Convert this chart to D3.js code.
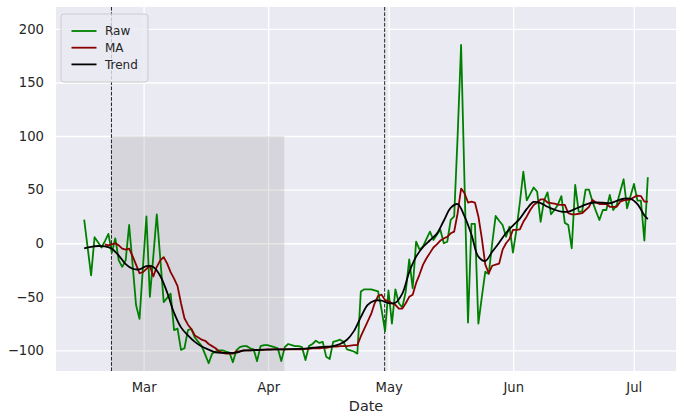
<!DOCTYPE html>
<meta charset="utf-8">
<style>
  body { margin: 0; background: #fff; }
  text { font-family: "DejaVu Sans", sans-serif; fill: #262626; }
  .grid line { stroke: #fff; stroke-width: 1.4; }
  .grid path { display: none; }
</style>
<script src="https://d3js.org/d3.v7.min.js"></script>
<div id="my_dataviz"></div>
<script>

// raw series, one value per sample (164 samples, evenly spaced from firstDate to lastDate)
var raw = [22, -4, -30, 5.6, 1, -4, 2, 8.7, -9, 4.6,
  -16, -22, -16, 17, -20, -57.6, -70.6, -22, 25, -50,
  -12, 27, -14, -55, -51, -47, -81, -79.6, -99.5, -98,
  -81, -80, -88, -92, -96, -104, -112, -103, -101, -100,
  -100, -101, -102, -111, -100, -97, -96, -96, -98, -99,
  -110, -96, -95, -95, -96, -97, -98, -110, -97, -94,
  -95, -96, -96, -97, -109, -96, -94, -91, -93, -92,
  -106, -108, -92, -91, -90, -92, -99, -100, -101, -103,
  -45, -43, -43, -43, -44, -45, -62, -82, -44, -75,
  -43, -56, -60, -45, -15, -42, 1.5, -6, -3, 4,
  10.8, 3, 8, 12.5, 0, 1.4, 21.7, 25, 100, 185,
  55, -74, 18, 18, -75, -50, -26.5, -28.6, 0, 25.5,
  21, 17, 6, 15.5, -8.7, 12.4, 38, 66.8, 40, 46,
  52, 48, 20, 40, 47.5, 27, 31, 36, 44, 19,
  17, -4.7, 54.4, 29.5, 29.5, 50, 50, 39, 30, 21.7,
  31, 31, 45, 31, 35.7, 48, 59.7, 32.6, 44, 55.3,
  39.7, 39.7, 2.4, 61.6];

// moving average, empty for the first six samples
var ma = [null, null, null, null, null, null, -1, -2, -1, 0,
  -2, -5, -6, -5, -12, -20, -28, -27, -24, -21,
  -31, -22, -16, -13, -19, -27, -33, -40, -56, -70,
  -76, -80, -86, -88, -90, -91, -94, -96, -98, -101,
  -102, -103, -103, -103, -101, -101, -100, -100, -100, -99.5,
  -99.5, -99.5, -99.4, -99, -99, -99, -99, -99, -99, -99,
  -99, -99, -99, -99, -98.5, -98.5, -98, -98, -98, -97.5,
  -97.5, -97, -96.5, -96.5, -96, -96, -96, -95.5, -95, -95,
  -87, -80, -73, -66, -56, -49, -48, -53, -54, -56,
  -57.5, -61, -61, -56, -50, -48, -37, -29, -20, -14,
  -9, -4, -1, 2.5, 4.5, 6, 9.3, 10.8, 28, 51,
  46.6, 38, 38.8, 38, 25, 4.6, -20, -28, -21, -20,
  -19, -6, 0, 4, 12.4, 12.5, 13, 20, 25, 31,
  35.7, 38, 41, 41, 38, 37.5, 37, 36, 35.7, 35.7,
  28, 27, 27, 27.5, 28, 31, 34, 40.4, 38, 36.6,
  36.6, 36.6, 34, 34, 34, 38.8, 40, 40.5, 41, 43,
  44.4, 44, 38.8, 38.8];

// smooth trend, read at every second sample
var trendIdx = [0, 2, 4, 6, 8, 10, 12, 14, 16, 18, 20, 22, 24, 26, 28, 30, 32, 34, 36, 38,
  40, 42, 44, 46, 48, 50, 52, 54, 56, 58, 60, 62, 64, 66, 68, 70, 72, 74, 76, 78,
  80, 82, 84, 86, 88, 90, 92, 94, 96, 98, 100, 102, 104, 106, 108, 110, 112, 114, 116, 118,
  120, 122, 124, 126, 128, 130, 132, 134, 136, 138, 140, 142, 144, 146, 148, 150, 152, 154, 156, 158,
  160, 162, 163];
var trend = [-4.7, -3.3, -2.6, -3, -5.2, -11.5, -19.5, -23.8, -24.3, -21.3, -22.2, -30.5, -46, -65, -78.5, -86, -92, -96.3, -99.3, -101.8,
  -102.3, -102.3, -102, -100.2, -100, -99.6, -99.3, -99.2, -99, -99, -98.8, -98.6, -98.4, -97.5, -97, -96.5, -95.9, -94, -90, -82,
  -69, -57.5, -53.5, -53.6, -55.8, -55.5, -47, -27, -12.5, -3.5, 2.8, 9, 21, 33, 36.5, 25, 8, -12.5, -16.5, -8,
  0.5, 9.5, 16.5, 23, 32, 38.5, 37.5, 34, 31.3, 29.5, 29.5, 32, 34.7, 37.2, 38, 37.8, 37.3, 39.5, 41.5, 41.5,
  36.5, 26, 22.4];

var firstDate = new Date(2020, 1, 15, 5),
    lastDate = new Date(2020, 6, 4, 12);
var markerDates = [new Date(2020, 1, 22), new Date(2020, 3, 30)];
var shadeDates = [new Date(2020, 1, 22), new Date(2020, 3, 5)];
var shadeTop = 100;
var yTicks = [-100, -50, 0, 50, 100, 150, 200];
var seriesNames = ["Raw", "MA", "Trend"];
var seriesColors = ["green", "darkred", "black"];

// dimensions
var W = 691, H = 414;
var margin = {top: 7, right: 15, bottom: 43, left: 56},
    width = W - margin.left - margin.right,
    height = H - margin.top - margin.bottom;

var svg = d3.select("#my_dataviz")
  .append("svg")
    .attr("width", W)
    .attr("height", H)
  .append("g")
    .attr("transform", "translate(" + margin.left + "," + margin.top + ")");

// sample dates
var step = (lastDate - firstDate) / (raw.length - 1);
var dates = raw.map(function(d, i) { return new Date(+firstDate + i * step); });

// scales (5% padding on x, like matplotlib)
var pad = (lastDate - firstDate) * 0.05;
var x = d3.scaleTime()
    .domain([new Date(+firstDate - pad), new Date(+lastDate + pad)])
    .range([0, width]);
var y = d3.scaleLinear()
    .domain([-119.2, 220.4])
    .range([height, 0]);

// background
svg.append("rect")
    .attr("width", width)
    .attr("height", height)
    .attr("fill", "#eaeaf2");

// grid
svg.append("g")
    .attr("class", "grid")
    .call(d3.axisLeft(y).tickValues(yTicks).tickSize(-width).tickFormat(""));
svg.append("g")
    .attr("class", "grid")
    .attr("transform", "translate(0," + height + ")")
    .call(d3.axisBottom(x).ticks(d3.timeMonth.every(1)).tickSize(-height).tickFormat(""));

// shaded period
svg.append("rect")
    .attr("x", x(shadeDates[0]))
    .attr("y", y(shadeTop))
    .attr("width", x(shadeDates[1]) - x(shadeDates[0]))
    .attr("height", height - y(shadeTop))
    .attr("fill", "#808080")
    .attr("fill-opacity", 0.2);

// dashed markers
svg.selectAll(".marker")
  .data(markerDates)
  .enter()
  .append("line")
    .attr("class", "marker")
    .attr("x1", function(d) { return x(d); })
    .attr("x2", function(d) { return x(d); })
    .attr("y1", 0)
    .attr("y2", height)
    .attr("stroke", "#222")
    .attr("stroke-width", 1)
    .attr("stroke-dasharray", "3.7,1.6");

// lines
var line = d3.line()
    .defined(function(d) { return d[1] != null; })
    .x(function(d) { return x(d[0]); })
    .y(function(d) { return y(d[1]); });

var rawPts = raw.map(function(v, i) { return [dates[i], v]; });
var maPts = ma.map(function(v, i) { return [dates[i], v]; });
var trendPts = trend.map(function(v, k) { return [dates[trendIdx[k]], v]; });

svg.append("path")
    .attr("d", line(rawPts))
    .attr("fill", "none")
    .attr("stroke", seriesColors[0])
    .attr("stroke-width", 1.8)
    .attr("stroke-linejoin", "round");
svg.append("path")
    .attr("d", line(maPts))
    .attr("fill", "none")
    .attr("stroke", seriesColors[1])
    .attr("stroke-width", 1.8)
    .attr("stroke-linejoin", "round");
svg.append("path")
    .attr("d", line.curve(d3.curveCatmullRom)(trendPts))
    .attr("fill", "none")
    .attr("stroke", seriesColors[2])
    .attr("stroke-width", 1.8);

// axes labels
var yAxis = svg.append("g")
    .call(d3.axisLeft(y).tickValues(yTicks).tickSize(0).tickPadding(12)
      .tickFormat(function(d) { return d < 0 ? "\u2212" + Math.abs(d) : d; }));
yAxis.select(".domain").remove();
yAxis.selectAll("text").style("font-size", "13.2px");

var xAxis = svg.append("g")
    .attr("transform", "translate(0," + height + ")")
    .call(d3.axisBottom(x).ticks(d3.timeMonth.every(1)).tickSize(0).tickPadding(12)
      .tickFormat(d3.timeFormat("%b")));
xAxis.select(".domain").remove();
xAxis.selectAll("text").style("font-size", "13.2px");

svg.append("text")
    .attr("x", width / 2)
    .attr("y", height + 40)
    .attr("text-anchor", "middle")
    .style("font-size", "14.4px")
    .text("Date");

// legend
var legend = svg.append("g")
    .attr("transform", "translate(5,7)");
legend.append("rect")
    .attr("width", 87)
    .attr("height", 68)
    .attr("rx", 3)
    .attr("fill", "#eaeaf2")
    .attr("fill-opacity", 0.8)
    .attr("stroke", "#cccccc")
    .attr("stroke-width", 1);
var items = legend.selectAll(".item")
  .data(seriesNames)
  .enter()
  .append("g")
    .attr("transform", function(d, i) { return "translate(0," + (17 + i * 16.7) + ")"; });
items.append("line")
    .attr("x1", 10.5)
    .attr("x2", 35.5)
    .attr("stroke", function(d, i) { return seriesColors[i]; })
    .attr("stroke-width", 1.8);
items.append("text")
    .attr("x", 44)
    .attr("dy", "0.35em")
    .style("font-size", "12px")
    .text(function(d) { return d; });

</script>
